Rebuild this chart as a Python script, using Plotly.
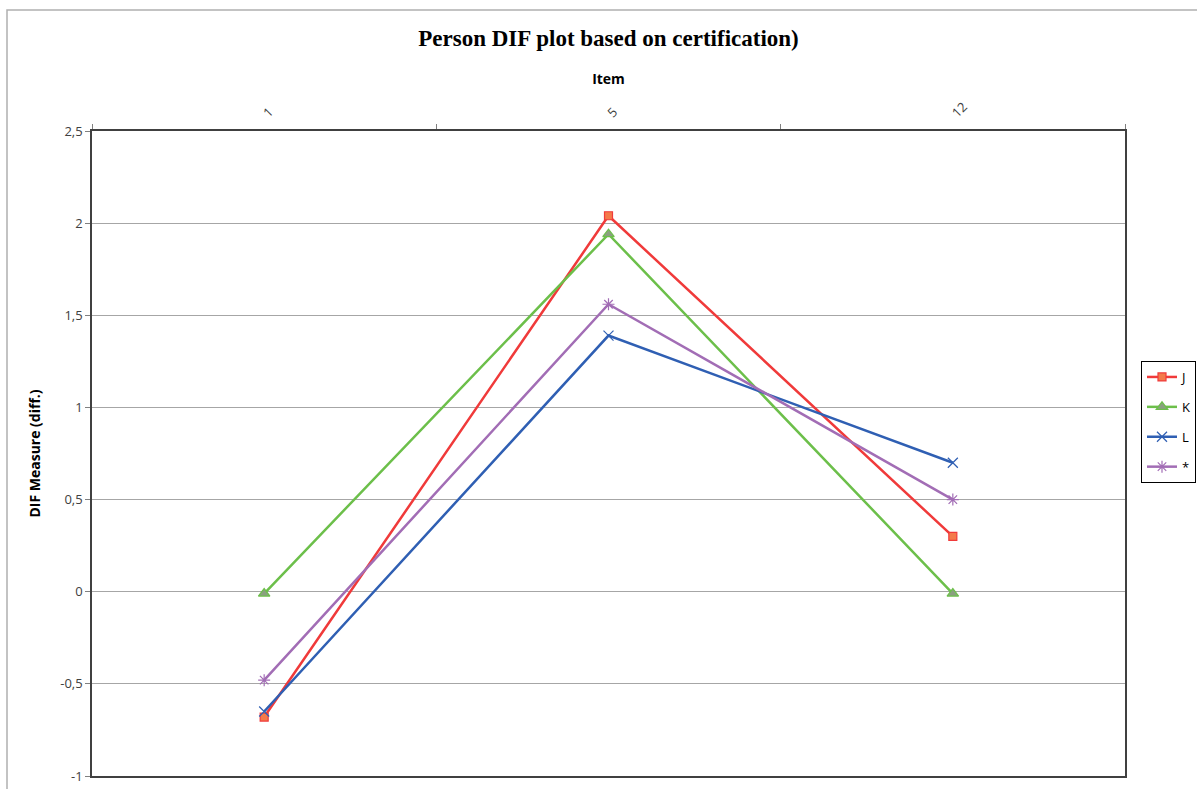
import plotly.graph_objects as go

items = ["1", "5", "12"]
series_names = ["J", "K", "L", "*"]
J_vals = [-0.68, 2.04, 0.30]
K_vals = [-0.01, 1.94, -0.01]
L_vals = [-0.65, 1.39, 0.70]
star_vals = [-0.48, 1.56, 0.50]

y_tick_vals = [-1, -0.5, 0, 0.5, 1, 1.5, 2, 2.5]
y_tick_text = ["-1", "-0,5", "0", "0,5", "1", "1,5", "2", "2,5"]

colors = ["#f03a3a", "#6cbf4a", "#2f5fb3", "#a26db5"]
symbols = ["square", "triangle-up", "x-thin-open", "asterisk-open"]
marker_fill = ["#f47a4a", "#8aa080", "#2f5fb3", "#a26db5"]

fig = go.Figure()
for name, vals, c, s, mf in zip(series_names, [J_vals, K_vals, L_vals, star_vals], colors, symbols, marker_fill):
    fig.add_trace(go.Scatter(
        x=items, y=vals, name=name, legendgroup=name, mode="lines+markers",
        line=dict(color=c, width=2.5),
        marker=dict(symbol=s, size=8 if s == "square" else 10, color=mf,
                    line=dict(color=c, width=1.2)),
    ))

W, H = 1197, 789
L, R, T, B = 92, 1125, 131, 776
PW, PH = R - L, B - T

fig.update_layout(
    width=W, height=H,
    margin=dict(l=L, r=W - R, t=T, b=H - B, autoexpand=False),
    paper_bgcolor="white", plot_bgcolor="white",
    title=dict(text="<b>Person DIF plot based on certification)</b>",
               font=dict(family="Liberation Serif", size=23, color="black"),
               x=(L + R) / 2 / W, xanchor="center", y=1 - 38 / H, yanchor="middle"),
    font=dict(family="Open Sans", size=13, color="#404040"),
    legend=dict(x=(1141 - L) / PW, xanchor="left", y=(B - 422) / PH, yanchor="middle",
                bordercolor="black", borderwidth=1, bgcolor="white",
                font=dict(family="Open Sans", size=13, color="black"),
                tracegroupgap=10),
    showlegend=True,
)
fig.update_xaxes(
    type="category", side="top", range=[-0.5, 2.5],
    title=dict(text="<b>Item</b>", font=dict(family="Open Sans", size=14, color="black"), standoff=10),
    tickangle=-45, tickson="boundaries", ticks="outside", ticklen=5, tickcolor="#808080",
    ticklabelstandoff=4,
    showgrid=False, showline=True, linecolor="#404040", linewidth=1.5, mirror=True,
    tickfont=dict(size=13, color="#404040"),
)
fig.update_yaxes(
    range=[-1, 2.5], tickmode="array", tickvals=y_tick_vals, ticktext=y_tick_text,
    title=dict(text="<b>DIF Measure (diff.)</b>", font=dict(family="Open Sans", size=14, color="black"), standoff=16),
    ticks="outside", ticklen=5, tickcolor="#808080",
    showgrid=True, gridcolor="#a6a6a6", gridwidth=1,
    zeroline=True, zerolinecolor="#a6a6a6", zerolinewidth=1,
    showline=True, linecolor="#404040", linewidth=1.5, mirror=True,
    tickfont=dict(size=13, color="#404040"),
)
# outer chart-area frame
fig.add_shape(type="rect", xref="paper", yref="paper",
              x0=(7 - L) / PW, x1=(1260 - L) / PW,
              y0=(B - 900) / PH, y1=(B - 10) / PH,
              line=dict(color="#b0b0b0", width=1.5), fillcolor="rgba(0,0,0,0)", layer="below")

fig.write_html("out.html", config={"displayModeBar": False},
               post_script="document.body.style.margin='0';document.body.style.overflow='hidden';")
